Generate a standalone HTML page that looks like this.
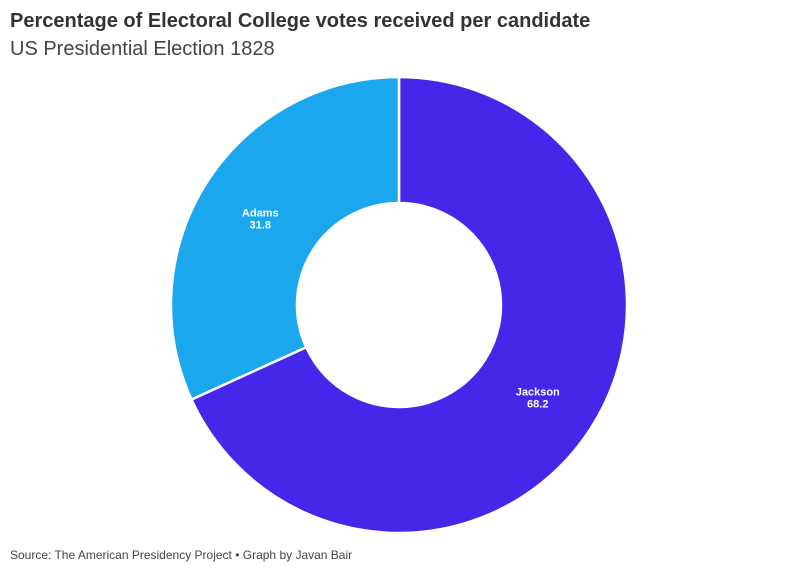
<!DOCTYPE html>
<html><head><meta charset="utf-8"><style>
body{margin:0;background:#fff;width:796px;height:575px;overflow:hidden;font-family:"Liberation Sans",sans-serif}
.t{position:absolute;left:10px;top:10px;font-size:20px;font-weight:bold;color:#333}
.s{position:absolute;left:10px;top:38px;font-size:20px;color:#444}
.f{position:absolute;left:10px;top:548px;font-size:12px;color:#444}
svg{position:absolute;left:0;top:0}
</style></head><body>
<div class="t">Percentage of Electoral College votes received per candidate</div>
<div class="s">US Presidential Election 1828</div>
<svg id="c" width="796" height="575"></svg>
<div class="f">Source: The American Presidency Project • Graph by Javan Bair</div>
<script>
const categories=["Jackson","Adams"];
const values=[68.2,31.8];
const colors=["#4427e8","#1ba7ee"];
const cx=399,cy=305,R=228,r=102;
const svg=document.getElementById('c');
const NS='http://www.w3.org/2000/svg';
const total=values.reduce((a,b)=>a+b,0);
let a0=0;
function pt(rad,a){return [cx+rad*Math.sin(a),cy-rad*Math.cos(a)];}
values.forEach((v,i)=>{
  const a1=a0+v/total*2*Math.PI;
  const large=(a1-a0)>Math.PI?1:0;
  const p1=pt(R,a0),p2=pt(R,a1),p3=pt(r,a1),p4=pt(r,a0);
  const p=document.createElementNS(NS,'path');
  p.setAttribute('d',`M${p1}A${R},${R} 0 ${large} 1 ${p2}L${p3}A${r},${r} 0 ${large} 0 ${p4}Z`);
  p.setAttribute('fill',colors[i]);p.setAttribute('stroke','#fff');p.setAttribute('stroke-width','2.5');p.setAttribute('stroke-linejoin','round');
  
  
  svg.appendChild(p);
  const m=(a0+a1)/2,lp=pt(165,m);
  const t=document.createElementNS(NS,'text');
  t.setAttribute('x',lp[0]);t.setAttribute('y',lp[1]+1);t.setAttribute('text-anchor','middle');
  t.setAttribute('fill','#fff');t.setAttribute('font-size','11');t.setAttribute('font-weight','bold');
  
  
  t.innerHTML=`<tspan x="${lp[0]}">${categories[i]}</tspan><tspan x="${lp[0]}" dy="12">${v}</tspan>`;
  svg.appendChild(t);
  a0=a1;
});
</script>
</body></html>
